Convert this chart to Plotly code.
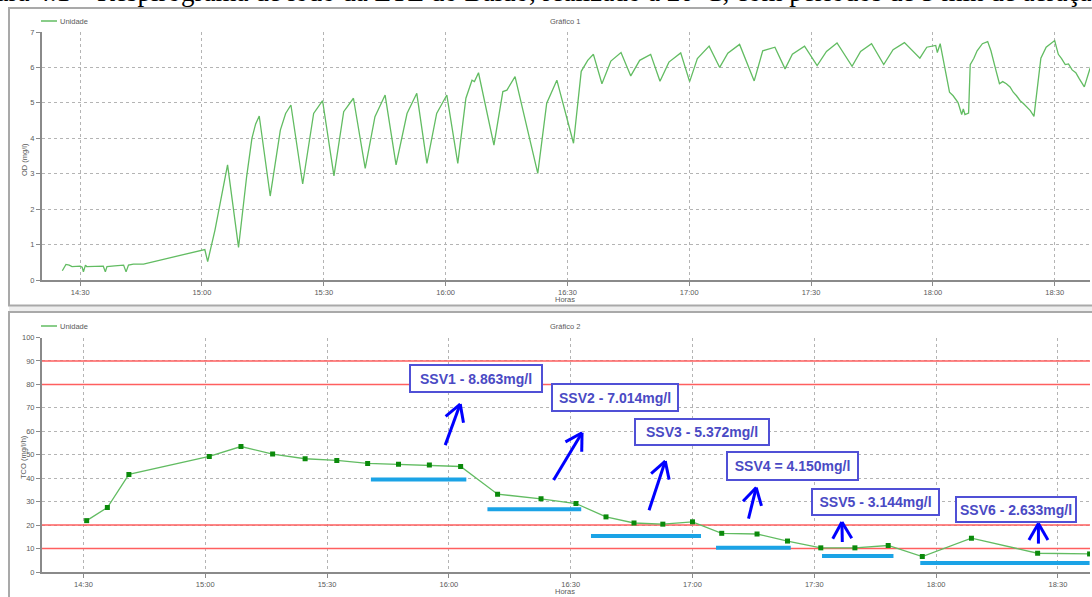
import math
import pandas as pd
import plotly.graph_objects as go

BASE = pd.Timestamp("2000-01-01 14:30:00")

# ---------------- data (minutes after 14:30) ----------------
od_minutes = [-4.4, -3.5, -2.7, -2.0, 0.0, 0.5, 0.8, 1.3, 1.6, 4.1, 5.7, 6.2, 6.6, 8.5, 10.7, 11.3,
              11.9, 13.1, 15.6, 30.7, 31.4, 33.2, 36.3, 39.0, 41.0, 42.3, 43.2, 44.1, 46.8, 49.3,
              50.6, 51.9, 54.8, 57.5, 58.7, 59.7, 62.5, 64.9, 67.3, 70.2, 72.6, 75.1, 77.8, 80.5,
              82.9, 85.4, 87.8, 90.3, 93.0, 95.0, 96.5, 97.1, 98.1, 101.9, 104.1, 105.1, 107.1,
              112.7, 114.9, 117.4, 121.5, 123.4, 125.0, 126.4, 128.5, 130.7, 133.2, 135.6, 137.8,
              140.5, 142.8, 145.0, 147.9, 150.1, 152.0, 154.9, 157.5, 159.5, 162.4, 166.0, 168.1,
              171.1, 173.6, 175.4, 178.4, 181.5, 183.8, 186.4, 190.1, 192.2, 194.9, 197.9, 200.2,
              203.0, 206.8, 208.5, 210.7, 211.1, 211.8, 212.8, 214.1, 215.0, 216.2, 217.1, 217.5,
              217.9, 218.8, 219.2, 220.1, 220.9, 222.2, 223.5, 224.3, 225.6, 226.4, 227.2, 228.1,
              229.0, 229.8, 230.6, 231.5, 232.3, 233.2, 234.0, 234.9, 235.8, 236.6, 237.9, 240.0,
              240.9, 241.7, 242.6, 243.4, 244.3, 245.2, 246.0, 247.3, 249.0]
od_values = [0.26, 0.44, 0.42, 0.38, 0.39, 0.36, 0.23, 0.42, 0.38, 0.38, 0.39, 0.23, 0.38, 0.40,
             0.42, 0.23, 0.42, 0.45, 0.45, 0.86, 0.52, 1.41, 3.25, 0.92, 2.92, 4.00, 4.40, 4.63,
             2.37, 4.23, 4.70, 4.94, 2.71, 4.70, 4.91, 5.06, 2.94, 4.75, 5.13, 3.15, 4.61, 5.22,
             3.25, 4.70, 5.27, 3.29, 4.70, 5.22, 3.29, 5.13, 5.64, 5.60, 5.85, 3.81, 5.32, 5.36,
             5.74, 3.01, 4.99, 5.64, 3.86, 5.89, 6.20, 6.37, 5.54, 6.18, 6.42, 5.76, 6.20, 6.37,
             5.61, 6.15, 6.41, 5.60, 6.25, 6.60, 6.00, 6.40, 6.65, 5.62, 6.47, 6.57, 5.96, 6.37,
             6.60, 6.05, 6.45, 6.69, 6.03, 6.45, 6.67, 6.08, 6.50, 6.70, 6.26, 6.57, 6.62, 6.42,
             6.67, 6.08, 5.30, 5.20, 5.01, 4.67, 4.83, 4.67, 4.71, 6.08, 6.26, 6.47, 6.67, 6.73,
             6.47, 5.89, 5.54, 5.60, 5.54, 5.45, 5.30, 5.20, 5.06, 4.98, 4.86, 4.78, 4.62, 5.50,
             6.26, 6.57, 6.76, 6.37, 6.25, 6.08, 6.10, 5.93, 5.85, 5.69, 5.45, 6.08]

tco_minutes = [0.8, 5.9, 11.2, 31.0, 38.8, 46.6, 54.6, 62.4, 70.0, 77.6, 85.2, 92.9, 102.0,
               112.7, 121.3, 128.7, 135.6, 142.7, 150.0, 157.2, 165.9, 173.4, 181.6, 190.0,
               198.2, 206.6, 218.7, 235.0, 247.8]
tco_values = [21.9, 27.5, 41.6, 49.3, 53.5, 50.3, 48.3, 47.6, 46.3, 45.9, 45.6, 45.0, 33.2,
              31.2, 29.2, 23.5, 20.9, 20.4, 21.4, 16.5, 16.2, 13.2, 10.3, 10.3, 11.3, 6.6,
              14.4, 8.0, 7.7]

red_levels = [10, 20, 80, 90]

ssv_labels = ["SSV1 - 8.863mg/l", "SSV2 - 7.014mg/l", "SSV3 - 5.372mg/l",
              "SSV4 = 4.150mg/l", "SSV5 - 3.144mg/l", "SSV6 - 2.633mg/l"]
ssv_box_minutes = [80.2, 115.2, 135.7, 158.3, 179.1, 214.7]
ssv_box_tops = [88.7, 80.4, 65.5, 51.7, 35.9, 32.5]

bar_start = [70.8, 99.5, 125.0, 155.8, 181.9, 206.1]
bar_end = [94.3, 122.6, 152.1, 174.2, 199.5, 247.8]
bar_level = [39.4, 26.8, 15.4, 10.3, 6.8, 3.8]

arrow_tail_min = [89.1, 115.8, 139.3, 163.8, 186.9, 235.2]
arrow_tail_val = [54.1, 39.2, 26.3, 22.8, 12.8, 12.1]
arrow_tip_min = [92.8, 122.8, 143.3, 165.7, 186.8, 235.2]
arrow_tip_val = [71.6, 59.4, 47.3, 36.0, 21.3, 20.7]

title_text = ("Figura 4.1 – Respirograma de lodo da ETE do Baldo, realizado a 20°C, "
              "com períodos de 5 min de aeração")

# ---------------- layout geometry ----------------
W, H = 1092, 597
ML, MR, MT, MB = 42, 2, 32, 25
PW, PH = W - ML - MR, H - MT - MB
top_x_range = (-9.4, 248.7)
bot_x_range = (-10.2, 247.9)
top_dom = ((MT + PH - 280) / PH, 1.0)
bot_dom = (0.0, (MT + PH - 337.5) / PH)


def ts(m):
    return (BASE + pd.Timedelta(minutes=m)).strftime("%Y-%m-%d %H:%M:%S.%f")[:-3]


def px(xp):
    return (xp - ML) / PW


def py(yp):
    return (MT + PH - yp) / PH


GREEN = "#62bc62"
GRID = "#b4b4b4"
AX = "#8a8a8a"
TXT = "#5a5a5a"
FONT = "Liberation Sans"

fig = go.Figure()

# red reference lines (drawn as traces so they sit above the grid)
for lv in red_levels:
    fig.add_trace(go.Scatter(x=[ts(bot_x_range[0]), ts(bot_x_range[1])], y=[lv, lv],
                             mode="lines", line=dict(color="#ff5f5f", width=1.5),
                             xaxis="x2", yaxis="y2", showlegend=False, hoverinfo="skip"))

fig.add_trace(go.Scatter(x=[ts(m) for m in od_minutes], y=od_values, mode="lines",
                         line=dict(color=GREEN, width=1.3), xaxis="x", yaxis="y",
                         name="Unidade", showlegend=False))
fig.add_trace(go.Scatter(x=[ts(m) for m in tco_minutes], y=tco_values, mode="lines+markers",
                         line=dict(color=GREEN, width=1.3),
                         marker=dict(symbol="square", size=5, color="#0b8a0b"),
                         xaxis="x2", yaxis="y2", name="Unidade", showlegend=False))

axis_common = dict(showgrid=True, gridcolor=GRID, griddash="dot", gridwidth=1,
                   showline=True, linecolor=AX, linewidth=2, ticks="outside", ticklen=4,
                   tickcolor=AX, tickfont=dict(size=7.5, color=TXT, family=FONT),
                   zeroline=False, automargin=False)
xcommon = dict(axis_common, type="date", tick0=ts(0), dtick=1800000, tickformat="%H:%M")

shapes = []
annotations = []

# frames
shapes.append(dict(type="rect", xref="paper", yref="paper", x0=px(9), x1=px(1100),
                   y0=py(305.5), y1=py(312), fillcolor="#eeeeee", line=dict(width=0),
                   layer="below"))
shapes.append(dict(type="rect", xref="paper", yref="paper", x0=px(9), x1=px(1100),
                   y0=py(305.5), y1=py(8), line=dict(color="#a9a9a9", width=2),
                   layer="below"))
shapes.append(dict(type="rect", xref="paper", yref="paper", x0=px(9), x1=px(1100),
                   y0=py(610), y1=py(312), line=dict(color="#a9a9a9", width=2),
                   layer="below"))

# blue bars
for s, e, lv in zip(bar_start, bar_end, bar_level):
    shapes.append(dict(type="line", xref="x2", yref="y2", x0=ts(s), x1=ts(e), y0=lv, y1=lv,
                       line=dict(color="#1ba3e6", width=4), layer="above"))

# arrows
ppm = PW / (bot_x_range[1] - bot_x_range[0])
ppu = (bot_dom[1] - bot_dom[0]) * PH / 100.0
HEAD_L, HEAD_A = 19, math.radians(30)
for tm, tv, hm, hv in zip(arrow_tail_min, arrow_tail_val, arrow_tip_min, arrow_tip_val):
    shapes.append(dict(type="line", xref="x2", yref="y2", x0=ts(tm), x1=ts(hm), y0=tv, y1=hv,
                       line=dict(color="#0000ff", width=3), layer="above"))
    dx, dy = (tm - hm) * ppm, (tv - hv) * ppu
    L = math.hypot(dx, dy)
    ux, uy = dx / L, dy / L
    for sgn in (1, -1):
        a = sgn * HEAD_A
        rx = ux * math.cos(a) - uy * math.sin(a)
        ry = ux * math.sin(a) + uy * math.cos(a)
        em, ev = hm + rx * HEAD_L / ppm, hv + ry * HEAD_L / ppu
        shapes.append(dict(type="line", xref="x2", yref="y2", x0=ts(hm), x1=ts(em),
                           y0=hv, y1=ev, line=dict(color="#0000ff", width=3), layer="above"))

# SSV boxes
box_w = [128, 122, 130, 127, 123, 116]
box_h = [23, 23, 22, 24, 22, 21]
for lab, m, v, bw, bh in zip(ssv_labels, ssv_box_minutes, ssv_box_tops, box_w, box_h):
    annotations.append(dict(text=lab, xref="x2", yref="y2", x=ts(m), y=v, xanchor="left",
                            yanchor="top", showarrow=False, width=bw, height=bh,
                            align="center", valign="middle", bgcolor="white",
                            bordercolor="#5050d6", borderwidth=2, borderpad=1,
                            font=dict(family=FONT, size=14, color="#4a4ac4", weight="bold")))

# legends, panel titles, axis titles
for ly, gt in ((21, "Gráfico 1"), (326, "Gráfico 2")):
    shapes.append(dict(type="line", xref="paper", yref="paper", x0=px(41), x1=px(57),
                       y0=py(ly), y1=py(ly), line=dict(color=GREEN, width=1.5)))
    annotations.append(dict(text="Unidade", xref="paper", yref="paper", x=px(58), y=py(ly),
                            xanchor="left", yanchor="middle", showarrow=False,
                            font=dict(family=FONT, size=7.5, color=TXT)))
    annotations.append(dict(text=gt, xref="paper", yref="paper", x=px(565), y=py(ly),
                            xanchor="center", yanchor="middle", showarrow=False,
                            font=dict(family=FONT, size=7.5, color=TXT)))

annotations.append(dict(text="Horas", xref="paper", yref="paper", x=px(565), y=py(299.5),
                        xanchor="center", yanchor="middle", showarrow=False,
                        font=dict(family=FONT, size=7.5, color=TXT)))
annotations.append(dict(text="Horas", xref="paper", yref="paper", x=px(565), y=py(591),
                        xanchor="center", yanchor="middle", showarrow=False,
                        font=dict(family=FONT, size=7.5, color=TXT)))
annotations.append(dict(text="OD (mg/l)", xref="paper", yref="paper", x=px(24), y=py(160),
                        xanchor="center", yanchor="middle", showarrow=False, textangle=-90,
                        font=dict(family=FONT, size=7.5, color=TXT)))
annotations.append(dict(text="TCO (mg/l/h)", xref="paper", yref="paper", x=px(24), y=py(457),
                        xanchor="center", yanchor="middle", showarrow=False, textangle=-90,
                        font=dict(family=FONT, size=7.5, color=TXT)))

# cut-off caption at the very top
annotations.append(dict(text=title_text, xref="paper", yref="paper", x=px(-43), y=py(9.5),
                        xanchor="left", yanchor="bottom", showarrow=False,
                        font=dict(family="Liberation Serif", size=27, color="black")))

fig.update_layout(
    width=W, height=H, margin=dict(l=ML, r=MR, t=MT, b=MB, autoexpand=False),
    paper_bgcolor="white", plot_bgcolor="white", showlegend=False,
    xaxis=dict(xcommon, domain=[0, 1], anchor="y", range=[ts(top_x_range[0]), ts(top_x_range[1])]),
    yaxis=dict(axis_common, domain=list(top_dom), anchor="x", range=[0, 7], dtick=1),
    xaxis2=dict(xcommon, domain=[0, 1], anchor="y2", range=[ts(bot_x_range[0]), ts(bot_x_range[1])]),
    yaxis2=dict(axis_common, domain=list(bot_dom), anchor="x2", range=[0, 100], dtick=10),
    shapes=shapes, annotations=annotations,
)

fig.write_html("out.html", config={"displayModeBar": False},
               post_script="document.body.style.margin='0';"
                           "document.body.style.overflow='hidden';")
